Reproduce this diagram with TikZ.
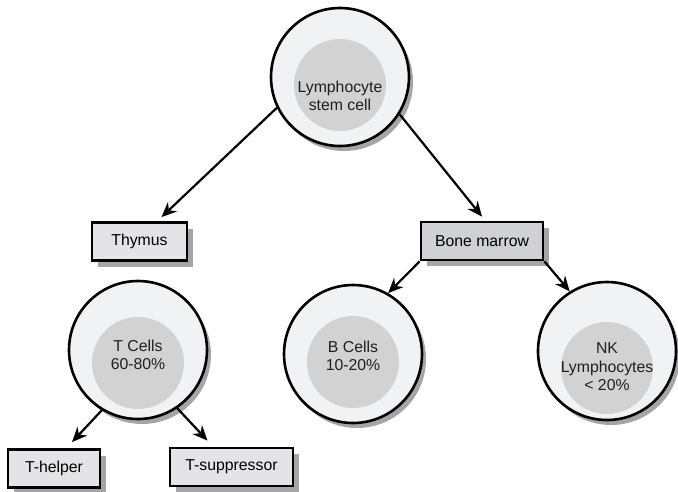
\documentclass[tikz,border=0pt]{standalone}
\usepackage{fontspec}
\setmainfont{Liberation Sans}
\usetikzlibrary{arrows.meta, shadows}
\definecolor{cellgray}{RGB}{241,242,244}
\definecolor{coregray}{RGB}{210,210,211}
\definecolor{boxgray}{RGB}{228,228,230}
\definecolor{marrowgray}{RGB}{208,209,212}
\definecolor{shadegray}{RGB}{165,165,168}

\begin{document}
\begin{tikzpicture}[x=1pt, y=-1pt, font=\fontsize{15.8}{18.5}\selectfont,
  cell/.style={circle, draw, line width=2.6pt, fill=cellgray, minimum size=138pt, inner sep=0pt,
    drop shadow={shadow xshift=4pt, shadow yshift=-5pt, fill=shadegray, opacity=1}},
  organ/.style={rectangle, draw, line width=2.8pt, fill=boxgray, minimum height=38pt, inner sep=0pt,
    drop shadow={shadow xshift=6pt, shadow yshift=-6pt, fill=shadegray, opacity=1}},
  core/.style={fill=coregray},
  celltext/.style={align=center, text=black!88},
  link/.style={-{Stealth[length=15pt, width=13pt]}, line width=2.2pt}]
  \useasboundingbox (0,0) rectangle (678,491);

  % cells
  \node[cell] (stem) at (340,77) {};
  \fill[core] ([yshift=-8pt]stem.center) circle (46pt);
  \node[celltext] (stem-text) at ([yshift=-19pt]stem.center) {Lymphocyte\\stem cell};

  \node[cell] (tcell) at (138,350) {};
  \fill[core] ([yshift=-13pt]tcell.center) circle (46pt);
  \node[celltext] (tcell-text) at ([yshift=-5pt]tcell.center) {T Cells\\60-80\%};

  \node[cell] (bcell) at (353,354) {};
  \fill[core] ([yshift=-8pt]bcell.center) circle (46pt);
  \node[celltext] (bcell-text) at ([yshift=-2pt]bcell.center) {B Cells\\10-20\%};

  \node[cell] (nk) at (607,351) {};
  \fill[core] ([yshift=-17pt]nk.center) circle (46pt);
  \node[celltext] (nk-text) at ([yshift=-16pt]nk.center) {NK\\Lymphocytes\\< 20\%};

  % organs and subsets
  \node[organ, minimum width=95pt] (thymus) at (139.5,241.5) {Thymus};
  \node[organ, minimum width=122pt, fill=marrowgray] (bone) at (482,241) {Bone marrow};
  \node[organ, minimum width=92pt] (thelper) at (54,468.5) {T-helper};
  \node[organ, minimum width=123pt] (tsupp) at (231.5,467) {T-suppressor};

  \draw[link] (stem.206) -- ([xshift=22pt, yshift=4pt]thymus.north);
  \draw[link] (stem.328) -- ([yshift=4pt]bone.north);
  \draw[link] (bone.south west) -- (bcell.60);
  \draw[link] (bone.south east) -- (nk.122);
  \draw[link] (tcell.239) -- ([xshift=18pt, yshift=6pt]thelper.north);
  \draw[link] (tcell.304) -- ([xshift=-24pt, yshift=6pt]tsupp.north);
\end{tikzpicture}
\end{document}
